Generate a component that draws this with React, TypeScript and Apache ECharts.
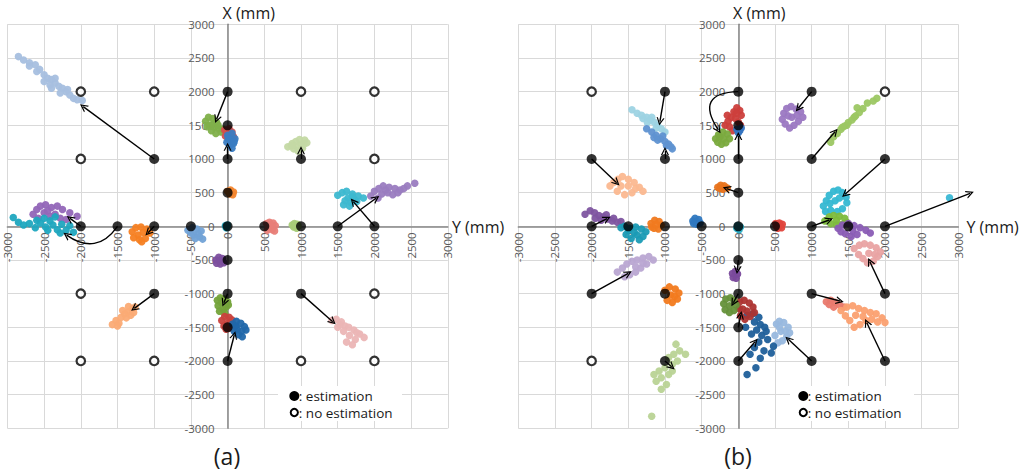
import React, { useEffect, useRef } from 'react';
import * as echarts from 'echarts';

// ---------- panel (a) data ----------
const aEstimation = [[0,2000],[0,1500],[0,1000],[0,500],[0,0],[0,-500],[0,-1000],[0,-1500],[0,-2000],
  [-2000,0],[-1500,0],[-1000,0],[-500,0],[500,0],[1000,0],[1500,0],[2000,0],
  [-1000,1000],[1000,1000],[-1000,-1000],[1000,-1000]];
const aNoEstimation = [[-2000,2000],[-1000,2000],[-2000,1000],[1000,2000],[2000,2000],[2000,1000],
  [-2000,-1000],[-2000,-2000],[-1000,-2000],[1000,-2000],[2000,-2000],[2000,-1000]];
const aArrows = [[-1000,1000,-1967,1778],[0,2000,-150,1590],[0,1000,0,1183],[1000,1000,1000,1130],
  [1500,0,2022,416],[2000,0,1713,366],[-2000,0,-2147,117],[-1000,0,-1083,-95],[0,-1000,-50,-1135],
  [0,-2000,91,-1615],[-1000,-1000,-1271,-1219],[1000,-1000,1432,-1417]];
const aCurvedArrows = [[-1500,0,-2193,-130]];

const aLightBlue = [[-2850,2520],[-2780,2470],[-2700,2430],[-2620,2400],[-2560,2330],[-2700,2380],[-2500,2250],[-2450,2200],[-2400,2180],[-2350,2130],[-2420,2100],[-2300,2080],[-2250,2050],[-2200,2000],[-2280,1980],[-2150,1950],[-2100,1900],[-2050,1880],[-1980,1870],[-2350,2200],[-2500,2150],[-2600,2300],[-2180,2030],[-2400,2050]];
const aGreen1 = [[-300,1560],[-260,1620],[-200,1600],[-150,1540],[-250,1500],[-180,1470],[-120,1450],[-220,1420],[-90,1400],[-160,1380],[-60,1440],[-280,1480],[-200,1520],[-130,1500]];
const aRed1 = [[-40,1430],[20,1450],[60,1400],[0,1380],[-30,1340],[40,1350],[80,1330],[10,1310],[-10,1420]];
const aBlue1 = [[0,1350],[60,1380],[100,1300],[40,1280],[-10,1250],[80,1230],[30,1200],[60,1160],[10,1300],[90,1260]];
const aOrange1 = [[0,520],[40,540],[80,510],[30,480],[70,470],[20,500],[60,500]];
const aLightGreen1 = [[820,1180],[880,1230],[930,1260],[980,1290],[1050,1280],[1080,1240],[1000,1210],[940,1190],[900,1150],[1020,1160],[960,1120],[870,1200],[1040,1220]];
const aCyan1 = [[1500,460],[1560,500],[1620,520],[1700,480],[1780,450],[1850,420],[1640,420],[1720,400],[1600,380],[1680,350],[1760,370],[1580,320],[1660,300],[1700,440]];
const aPurple1 = [[1950,450],[2000,520],[2060,560],[2120,600],[2200,580],[2280,560],[2350,540],[2450,600],[2550,640],[2100,480],[2180,500],[2250,470],[2320,500],[2050,420],[2150,540],[2400,560]];
const aSalmon1 = [[530,40],[570,60],[620,50],[650,10],[600,0],[560,-20],[540,-60],[610,-50],[640,-70],[580,20]];
const aLightGreen2 = [[880,20],[910,40],[950,30],[900,-10],[940,-30],[960,0],[920,10]];
const aPurple2 = [[-2650,180],[-2600,250],[-2550,300],[-2480,320],[-2400,280],[-2320,300],[-2250,250],[-2150,200],[-2050,150],[-2500,200],[-2420,150],[-2350,180],[-2280,120],[-2200,100],[-2580,120],[-2450,230]];
const aCyan2 = [[-2920,130],[-2850,60],[-2780,20],[-2700,40],[-2620,-20],[-2550,50],[-2480,-10],[-2420,80],[-2380,20],[-2320,-50],[-2260,30],[-2200,-60],[-2150,10],[-2100,-90],[-2500,120],[-2350,140],[-2600,90],[-2450,-60],[-2280,-100]];
const aOrange2 = [[-1300,-80],[-1250,-20],[-1180,-10],[-1100,-40],[-1060,-100],[-1150,-90],[-1220,-130],[-1280,-170],[-1200,-200],[-1120,-180],[-1170,-230]];
const aBlue2 = [[-540,-60],[-480,-20],[-420,-40],[-360,-70],[-400,-110],[-460,-130],[-380,-160],[-340,-190],[-440,-180],[-500,-100]];
const aCyan3 = [[-30,10],[-10,-10],[0,20],[-20,-20]];
const aPurple3 = [[-160,-500],[-120,-460],[-70,-480],[-50,-540],[-100,-560],[-150,-550],[-100,-510]];
const aGreen2 = [[-140,-1100],[-100,-1060],[-40,-1080],[0,-1120],[-80,-1140],[-130,-1180],[-20,-1200],[-60,-1240],[-110,-1260],[-40,-1290],[10,-1170]];
const aRed2 = [[-80,-1400],[-40,-1340],[20,-1350],[60,-1390],[70,-1460],[0,-1440],[-50,-1480],[30,-1510],[-20,-1530]];
const aBlue3 = [[70,-1450],[120,-1410],[180,-1440],[230,-1490],[250,-1540],[190,-1560],[130,-1520],[90,-1560],[150,-1610],[200,-1640],[110,-1480]];
const aLightOrange1 = [[-1570,-1460],[-1520,-1400],[-1480,-1440],[-1450,-1350],[-1400,-1300],[-1350,-1270],[-1300,-1230],[-1260,-1200],[-1380,-1360],[-1320,-1320],[-1430,-1250],[-1500,-1480],[-1280,-1280],[-1350,-1190]];
const aPink1 = [[1420,-1400],[1480,-1380],[1550,-1420],[1600,-1480],[1650,-1500],[1720,-1540],[1800,-1600],[1860,-1650],[1500,-1500],[1580,-1560],[1660,-1620],[1740,-1680],[1620,-1720],[1700,-1760],[1530,-1460],[1760,-1580]];

// ---------- panel (b) data ----------
const bEstimation = [[-1000,2000],[0,2000],[1000,2000],[-2000,1000],[-1000,1000],[0,1000],[1000,1000],[2000,1000],
  [0,1500],[0,500],[-2000,0],[-1500,0],[-1000,0],[-500,0],[0,0],[500,0],[1000,0],[1500,0],[2000,0],
  [0,-500],[0,-1000],[0,-1500],[0,-2000],[-2000,-1000],[-1000,-1000],[1000,-1000],[2000,-1000],
  [-1000,-2000],[1000,-2000],[2000,-2000]];
const bNoEstimation = [[-2000,2000],[2000,2000],[-2000,-2000]];
const bArrows = [[-1000,2000,-1069,1554],[-1000,1000,-1000,1120],[0,1000,0,1340],[0,500,-160,560],
  [-2000,1000,-1659,648],[-2000,0,-1790,115],[1000,2000,818,1753],[1000,1000,1319,1405],[2000,1000,1456,475],
  [1000,0,1241,94],[2000,0,3161,490],[2000,-1000,1794,-526],[1000,-1000,1385,-1110],[2000,-2000,1752,-1432],
  [1000,-2000,682,-1679],[0,-2000,228,-1715],[0,-1500,33,-1318],[0,-1000,-68,-1135],[0,-500,-14,-649],
  [-2000,-1000,-1500,-698],[-1000,-2000,-909,-2086]];
const bCurvedArrows = [[0,2000,-272,1431]];

const bLightCyan = [[-1450,1730],[-1380,1680],[-1320,1650],[-1250,1620],[-1200,1580],[-1150,1550],[-1100,1500],[-1050,1450],[-1000,1400],[-1300,1600],[-1180,1620],[-1120,1460],[-1240,1540]];
const bBlue = [[-1250,1450],[-1180,1400],[-1120,1350],[-1060,1300],[-1000,1260],[-950,1220],[-900,1150],[-1100,1280],[-1030,1340],[-980,1200],[-1150,1320],[-920,1180]];
const bRed = [[-180,1500],[-140,1560],[-100,1620],[-60,1700],[-20,1760],[20,1720],[40,1650],[-40,1600],[0,1550],[-120,1480],[-80,1420],[30,1500],[-30,1680],[-150,1650]];
const bBlueSmall = [[-20,1440],[20,1420],[40,1460],[0,1390]];
const bGreen = [[-310,1300],[-270,1360],[-210,1400],[-150,1370],[-120,1300],[-170,1240],[-230,1220],[-280,1250],[-200,1300],[-250,1330]];
const bOrangeSmall = [[-280,580],[-240,610],[-190,600],[-150,570],[-210,550],[-250,560]];
const bLightOrange = [[-1750,600],[-1700,650],[-1640,700],[-1580,740],[-1500,700],[-1420,650],[-1350,580],[-1300,520],[-1450,500],[-1550,470],[-1650,520],[-1600,600],[-1500,600],[-1400,560]];
const bPurple1 = [[-2090,180],[-2020,230],[-1960,200],[-1900,160],[-1840,140],[-1780,110],[-1720,80],[-1650,60],[-1600,70],[-1950,120],[-1870,90],[-1800,170],[-1700,120]];
const bTeal = [[-1600,-20],[-1550,0],[-1480,-30],[-1400,-10],[-1320,-40],[-1260,-80],[-1300,-150],[-1380,-130],[-1460,-180],[-1530,-120],[-1420,-90],[-1350,-200],[-1500,-60]];
const bOrange1 = [[-1190,40],[-1140,90],[-1080,70],[-1050,20],[-1090,-40],[-1150,-30],[-1180,-10],[-1120,30]];
const bBlue2 = [[-620,80],[-590,120],[-540,100],[-520,50],[-570,30],[-610,40]];
const bCyanSmall = [[-20,-30],[10,-50],[30,-10],[-10,10]];
const bRed2 = [[510,40],[560,50],[600,30],[590,-20],[540,-30],[520,0],[570,10]];
const bPurple2 = [[620,1680],[660,1750],[720,1780],[790,1740],[850,1700],[880,1620],[820,1560],[760,1500],[700,1460],[640,1520],[600,1590],[730,1620],[800,1650],[680,1640]];
const bGreenLong = [[1260,1250],[1300,1330],[1350,1380],[1400,1440],[1450,1490],[1500,1540],[1550,1580],[1600,1640],[1650,1690],[1480,1500],[1580,1620],[1700,1750],[1760,1830],[1840,1860],[1890,1900],[1620,1760],[1420,1470]];
const bCyanTiny = [[2880,425]];
const bCyan = [[1160,300],[1200,380],[1240,460],[1300,520],[1360,540],[1420,500],[1470,430],[1480,350],[1420,260],[1350,220],[1260,240],[1190,220],[1320,380],[1380,420],[1250,340]];
const bGreen2 = [[1180,80],[1240,140],[1300,160],[1380,150],[1450,120],[1480,60],[1420,30],[1340,20],[1260,40],[1340,90]];
const bPurple3 = [[1360,-30],[1420,20],[1500,40],[1580,10],[1660,-20],[1740,-60],[1800,-100],[1620,-120],[1540,-150],[1460,-110],[1400,-80],[1560,-60]];
const bPink = [[1580,-330],[1650,-280],[1720,-260],[1800,-280],[1880,-320],[1940,-380],[1900,-450],[1840,-520],[1760,-540],[1700,-480],[1640,-420],[1780,-400],[1860,-420]];
const bSalmon = [[1200,-1120],[1260,-1100],[1320,-1130],[1380,-1170],[1440,-1200],[1300,-1200],[1240,-1160]];
const bLightOrange2 = [[1400,-1250],[1480,-1200],[1560,-1180],[1640,-1220],[1720,-1250],[1800,-1280],[1880,-1300],[1960,-1360],[2000,-1430],[1900,-1420],[1820,-1380],[1740,-1400],[1660,-1460],[1580,-1500],[1520,-1400],[1600,-1320],[1700,-1340],[1460,-1330]];
const bLightBlue = [[520,-1450],[560,-1410],[620,-1430],[680,-1500],[700,-1580],[660,-1640],[600,-1700],[540,-1730],[500,-1620],[580,-1560],[640,-1560],[560,-1500]];
const bDarkBlue = [[120,-1320],[200,-1300],[280,-1350],[220,-1420],[300,-1460],[360,-1500],[250,-1540],[180,-1600],[320,-1620],[400,-1680],[280,-1720],[220,-1800],[350,-1850],[450,-1880],[160,-1900],[300,-1960],[240,-2100],[100,-1500],[480,-1780],[120,-2200],[380,-1560]];
const bDarkRed = [[20,-1120],[80,-1100],[150,-1140],[200,-1200],[220,-1280],[160,-1340],[90,-1380],[30,-1330],[60,-1230],[120,-1260],[10,-1220]];
const bDarkGreen = [[-200,-1150],[-170,-1080],[-110,-1060],[-60,-1100],[-30,-1170],[-60,-1250],[-120,-1280],[-180,-1240],[-120,-1180]];
const bPurpleSmall = [[-80,-700],[-40,-670],[-10,-710],[-30,-770],[-70,-760]];
const bLightPurple = [[-1650,-680],[-1580,-620],[-1520,-560],[-1450,-520],[-1380,-500],[-1300,-470],[-1220,-450],[-1160,-500],[-1250,-560],[-1330,-620],[-1400,-680],[-1480,-720],[-1550,-750],[-1400,-600],[-1300,-550]];
const bOrange2 = [[-1000,-950],[-940,-900],[-860,-930],[-810,-990],[-830,-1080],[-900,-1130],[-970,-1100],[-920,-1020],[-870,-1040]];
const bLightGreen = [[-850,-1750],[-800,-1850],[-880,-1900],[-950,-1950],[-830,-2000],[-900,-2050],[-1000,-2100],[-1080,-2150],[-950,-2200],[-1050,-2250],[-1120,-2300],[-980,-2350],[-1050,-2420],[-1150,-2200],[-900,-2150],[-1181,-2820],[-720,-1900]];

const aClusters = [aLightBlue, aGreen1, aRed1, aBlue1, aOrange1, aLightGreen1, aCyan1, aPurple1, aSalmon1, aLightGreen2, aPurple2, aCyan2, aOrange2, aBlue2, aCyan3, aPurple3, aGreen2, aRed2, aBlue3, aLightOrange1, aPink1];
const bClusters = [bLightCyan, bBlue, bRed, bBlueSmall, bGreen, bOrangeSmall, bLightOrange, bPurple1, bTeal, bOrange1, bBlue2, bCyanSmall, bRed2, bPurple2, bGreenLong, bCyanTiny, bCyan, bGreen2, bPurple3, bPink, bSalmon, bLightOrange2, bLightBlue, bDarkBlue, bDarkRed, bDarkGreen, bPurpleSmall, bLightPurple, bOrange2, bLightGreen];

// colours, in the same order as the clusters
const aColors = ['#a6bfdf','#80b04a','#d5504c','#3a7cc2','#f4862e','#c4d9a4','#3db8d0','#9a7cc0','#e87e78','#a8cc78','#9266b8','#1fa7bf','#f57f22','#72a2d6','#1fa7bf','#7c4f9e','#74a33a','#c9413d','#2067aa','#fbab75','#ebb5b5'];
const bColors = ['#9dd3e3','#5f92d1','#cc3f3c','#3373c0','#7aaa3e','#e8731c','#fbb890','#7e55a0','#1a9bb5','#f07a20','#2f78c0','#2ab0c8','#e0443c','#9b78c2','#9cc763','#3ab8d5','#35b8d2','#7dba3c','#8a5cb5','#e9a3a3','#e97a6e','#fba070','#98b8de','#1f5f9a','#ad3432','#65913a','#7a4a9c','#b9a6d2','#f27a1e','#b9d395'];

const FONT = 'Open Sans';
const CHEVRON = 'path://M5,0 L10,10 L8.4,10 L5,3.4 L1.6,10 L0,10 Z';

function makeAxisX(gridIndex: number) {
  return {
    type: 'value', gridIndex, min: -3000, max: 3000, interval: 500,
    position: 'bottom', offset: -202,
    axisLine: { onZero: false, lineStyle: { color: '#868686', width: 1.5 } },
    axisTick: { show: false },
    axisLabel: { rotate: 90, margin: 6, fontSize: 11.5, color: '#595959', fontFamily: FONT, formatter: (v: number) => String(v) },
    splitLine: { show: true, lineStyle: { color: '#d9d9d9', width: 1 } },
  };
}
function makeAxisY(gridIndex: number, half: number) {
  return {
    type: 'value', gridIndex, min: -3000, max: 3000, interval: 500,
    position: 'left', offset: -half,
    axisLine: { onZero: false, lineStyle: { color: '#868686', width: 1.5 } },
    axisTick: { show: false },
    axisLabel: { margin: 13, fontSize: 11.5, color: '#595959', fontFamily: FONT, formatter: (v: number) => String(v) },
    splitLine: { show: true, lineStyle: { color: '#d9d9d9', width: 1 } },
  };
}

function panelSeries(idx: number, clusters: number[][][], colors: string[], est: number[][], noEst: number[][], arrows: number[][], curved: number[][], curveness: number) {
  const out: any[] = [];
  clusters.forEach((c, i) => {
    out.push({
      type: 'scatter', xAxisIndex: idx, yAxisIndex: idx, data: c, symbol: 'circle', symbolSize: 7.5,
      itemStyle: { color: colors[i], opacity: 0.95 }, z: 2, clip: false, silent: true,
    });
  });
  out.push({
    type: 'lines', coordinateSystem: 'cartesian2d', xAxisIndex: idx, yAxisIndex: idx, z: 3, clip: false,
    symbol: ['none', CHEVRON], symbolSize: 8,
    lineStyle: { color: '#000', width: 1.4, opacity: 1, curveness: 0 },
    data: arrows.map(a => ({ coords: [[a[0], a[1]], [a[2], a[3]]] })),
  });
  out.push({
    type: 'lines', coordinateSystem: 'cartesian2d', xAxisIndex: idx, yAxisIndex: idx, z: 3, clip: false,
    symbol: ['none', CHEVRON], symbolSize: 8,
    lineStyle: { color: '#000', width: 1.4, opacity: 1, curveness },
    data: curved.map(a => ({ coords: [[a[0], a[1]], [a[2], a[3]]] })),
  });
  out.push({
    type: 'scatter', xAxisIndex: idx, yAxisIndex: idx, data: est, symbol: 'circle', symbolSize: 10,
    itemStyle: { color: '#000' }, z: 5, clip: false,
  });
  out.push({
    type: 'scatter', xAxisIndex: idx, yAxisIndex: idx, data: noEst, symbol: 'circle', symbolSize: 8.5,
    itemStyle: { color: '#fff', borderColor: '#000', borderWidth: 2.2 }, z: 5, clip: false,
  });
  return out;
}

function txt(text: string, x: number, y: number, size: number, align = 'left') {
  return { type: 'text', x, y, z: 20, style: { text, fill: '#1a1a1a', font: `${size}px "${FONT}"`, textAlign: align, textVerticalAlign: 'middle' } };
}

function legend(left: number, dotX: number) {
  return [
    { type: 'rect', z: 15, shape: { x: left, y: 386, width: 124, height: 35 }, style: { fill: '#fff' } },
    { type: 'circle', z: 16, shape: { cx: dotX, cy: 396, r: 5 }, style: { fill: '#000' } },
    { type: 'circle', z: 16, shape: { cx: dotX, cy: 412.5, r: 3.6 }, style: { fill: '#fff', stroke: '#000', lineWidth: 2 } },
    { ...txt(': estimation', dotX + 4.5, 396, 13.5), z: 16 },
    { ...txt(': no estimation', dotX + 4.5, 412.5, 13.5), z: 16 },
  ];
}

export default function App() {
  const ref = useRef<HTMLDivElement>(null);
  useEffect(() => {
    if (!ref.current) return;
    const chart = echarts.init(ref.current, undefined, { renderer: 'svg' });
    chart.setOption({
      animation: false,
      backgroundColor: '#fff',
      textStyle: { fontFamily: FONT },
      grid: [
        { left: 7.4, top: 24.3, width: 440.4, height: 404, containLabel: false },
        { left: 518.3, top: 24.3, width: 440, height: 404, containLabel: false },
      ],
      xAxis: [makeAxisX(0), makeAxisX(1)],
      yAxis: [makeAxisY(0, 220.2), makeAxisY(1, 220)],
      series: [
        ...panelSeries(0, aClusters, aColors, aEstimation, aNoEstimation, aArrows, aCurvedArrows, 0.5),
        ...panelSeries(1, bClusters, bColors, bEstimation, bNoEstimation, bArrows, bCurvedArrows, -0.9),
      ],
      graphic: [
        txt('X (mm)', 222.5, 12.5, 16),
        txt('Y (mm)', 452, 227, 16),
        txt('X (mm)', 733, 12.5, 16),
        txt('Y (mm)', 966.5, 227, 16),
        txt('(a)', 227, 456, 23, 'center'),
        txt('(b)', 738, 456, 23, 'center'),
        ...legend(278, 294.3),
        ...legend(790, 803.3),
      ],
    });
    return () => chart.dispose();
  }, []);
  return <div ref={ref} style={{ position: 'absolute', left: 0, top: 0, width: 1024, height: 476 }} />;
}
